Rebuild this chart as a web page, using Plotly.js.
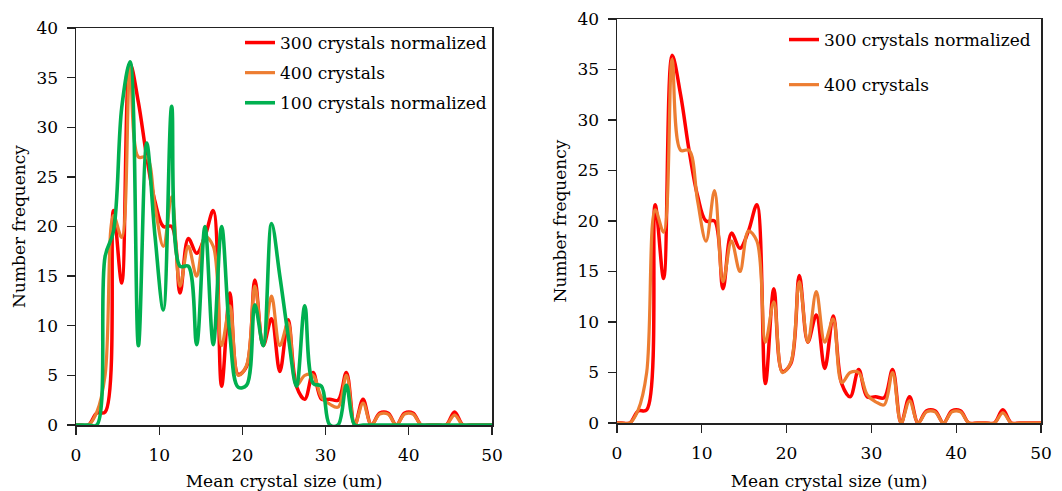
<!DOCTYPE html>
<html>
<head>
<meta charset="utf-8">
<script src="https://cdn.plot.ly/plotly-3.0.1.min.js"></script>
<style>html,body{margin:0;padding:0;background:#fff;}#chart{width:1062px;height:491px;}</style>
</head>
<body>
<div id="chart"></div>
<script>
// Mean crystal size (um)
const sizes = [0, 0.5, 1.5, 2.5, 3.5, 4.5, 5.5, 6.5, 7.5, 8.5, 9.5, 10.5, 11.5, 12.5, 13.5, 14.5, 15.5, 16.5, 17.5, 18.5, 19.5,
  20.5, 21.5, 22.5, 23.5, 24.5, 25.5, 26.5, 27.5, 28.5, 29.5, 30.5, 31.5, 32.5, 33.5, 34.5, 35.5, 36.5, 37.5, 38.5, 39.5,
  40.5, 41.5, 42.5, 43.5, 44.5, 45.5, 46.5, 47.5, 48.5, 49.5, 50];

const crystals300Normalized = [0, 0, 0, 1.2, 1.3, 21.6, 14.3, 36.4, 32.5, 27, 22.5, 20, 20, 13.3, 18.8, 17.3, 19, 21.6, 3.9, 13.3, 5.1,
  5.9, 14.6, 8, 10.7, 5.4, 10.6, 3.9, 2.6, 5.3, 2.6, 2.6, 2.5, 5.3, 0, 2.6, 0, 1.2, 1.2, 0, 1.2,
  1.2, 0, 0, 0, 0, 1.3, 0, 0, 0, 0, 0];

const crystals400 = [0, 0, 0, 1.3, 5, 21.1, 18.9, 36, 27, 27, 22, 18, 23, 14, 18, 15, 19, 18, 8, 12, 5,
  6, 14, 8, 13, 8, 10.3, 4, 5, 5, 2.8, 2.1, 1.8, 5, 0, 2.2, 0, 1.1, 1.1, 0, 1.1,
  1.1, 0, 0, 0, 0, 1, 0, 0, 0, 0, 0];

const crystals100Normalized = [0, 0, 0, 0, 17, 19.5, 32, 36.6, 8, 28.4, 19, 11.6, 32.1, 16, 16, 8.1, 20, 8.1, 20, 9, 3.8,
  4, 12.1, 8, 20.3, 15, 9, 3.9, 12, 4.2, 3.9, 0, 0, 4, 0, 0, 0, 0, 0, 0, 0,
  0, 0, 0, 0, 0, 0, 0, 0, 0, 0, 0];

const xTicks = [0, 10, 20, 30, 40, 50];
const yTicks = [0, 5, 10, 15, 20, 25, 30, 35, 40];

const names = {
  n300: '300 crystals normalized',
  n400: '400 crystals',
  n100: '100 crystals normalized'
};
const colors = {red: '#FF0000', orange: '#ED7D31', green: '#00B050'};

const FONT = 'DejaVu Serif';
const TXT = '#000';
const W = 1062, H = 491;

const traces = [
  {x: sizes, y: crystals300Normalized, name: names.n300, xaxis: 'x', yaxis: 'y', legend: 'legend', legendgroup: 'a1',
   mode: 'lines', line: {color: colors.red, width: 3.5, shape: 'spline', smoothing: 1}},
  {x: sizes, y: crystals400, name: names.n400, xaxis: 'x', yaxis: 'y', legend: 'legend', legendgroup: 'a2',
   mode: 'lines', line: {color: colors.orange, width: 3.2, shape: 'spline', smoothing: 1}},
  {x: sizes, y: crystals100Normalized, name: names.n100, xaxis: 'x', yaxis: 'y', legend: 'legend', legendgroup: 'a3',
   mode: 'lines', line: {color: colors.green, width: 3.6, shape: 'spline', smoothing: 1}},
  {x: sizes, y: crystals300Normalized, name: names.n300, xaxis: 'x2', yaxis: 'y2', legend: 'legend2', legendgroup: 'b1',
   mode: 'lines', line: {color: colors.red, width: 3.5, shape: 'spline', smoothing: 1}},
  {x: sizes, y: crystals400, name: names.n400, xaxis: 'x2', yaxis: 'y2', legend: 'legend2', legendgroup: 'b2',
   mode: 'lines', line: {color: colors.orange, width: 3.2, shape: 'spline', smoothing: 1}}
];

function xAxis(domain, anchor) {
  return {
    domain: domain, anchor: anchor, range: [0, 50], tickvals: xTicks, ticks: 'outside', ticklen: 8, tickwidth: 1.3,
    tickcolor: '#222', showline: true, mirror: true, linecolor: '#222', linewidth: 1.5, showgrid: false, zeroline: false,
    ticklabelstandoff: 6,
    tickfont: {family: FONT, size: 17, color: TXT},
    title: {text: 'Mean crystal size (um)', font: {family: FONT, size: 17, color: TXT}, standoff: 15}
  };
}
function yAxis(domain, anchor) {
  return {
    domain: domain, anchor: anchor, range: [0, 40], tickvals: yTicks, ticks: 'outside', ticklen: 8, tickwidth: 1.3,
    tickcolor: '#222', showline: true, mirror: true, linecolor: '#222', linewidth: 1.5, showgrid: false, zeroline: false,
    ticklabelstandoff: 5,
    tickfont: {family: FONT, size: 17, color: TXT},
    title: {text: 'Number frequency', font: {family: FONT, size: 17, color: TXT}, standoff: 6}
  };
}

const layout = {
  width: W, height: H,
  margin: {l: 0, r: 0, t: 0, b: 0},
  paper_bgcolor: '#fff', plot_bgcolor: '#fff',
  font: {family: FONT, size: 17, color: TXT},
  xaxis: xAxis([76 / W, 492 / W], 'y'),
  yaxis: yAxis([1 - 425 / H, 1 - 28 / H], 'x'),
  xaxis2: xAxis([617 / W, 1041 / W], 'y2'),
  yaxis2: yAxis([1 - 423 / H, 1 - 19 / H], 'x2'),
  legend: {x: 240 / W, xanchor: 'left', y: 1 - 25 / H, yanchor: 'top', bgcolor: 'rgba(0,0,0,0)',
           font: {family: FONT, size: 17, color: TXT}, tracegroupgap: 5, traceorder: 'grouped'},
  legend2: {x: 784 / W, xanchor: 'left', y: 1 - 22 / H, yanchor: 'top', bgcolor: 'rgba(0,0,0,0)',
            font: {family: FONT, size: 17, color: TXT}, tracegroupgap: 20, traceorder: 'grouped'},
  showlegend: true
};

Plotly.newPlot('chart', traces, layout, {displayModeBar: false, staticPlot: true});
</script>
</body>
</html>
